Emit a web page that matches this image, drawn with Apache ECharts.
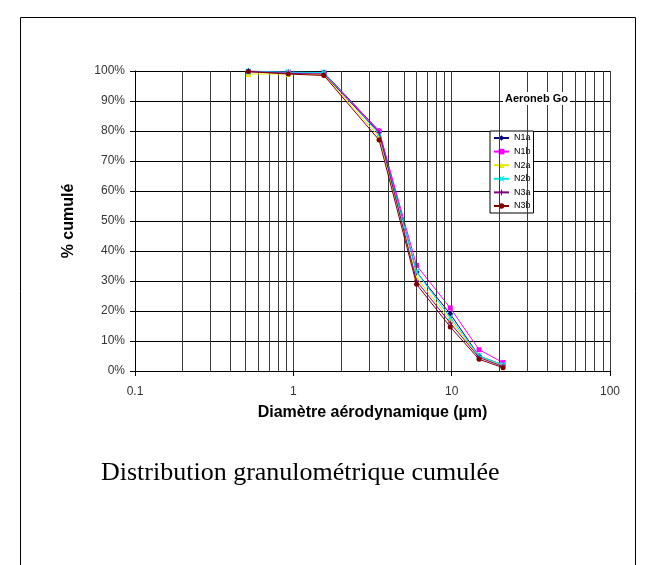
<!DOCTYPE html>
<html>
<head>
<meta charset="utf-8">
<script src="https://cdn.jsdelivr.net/npm/echarts@6/dist/echarts.min.js"></script>
<style>
html,body{margin:0;padding:0;background:#fff;}
#c{width:655px;height:565px;}
</style>
</head>
<body>
<div id="c"></div>
<script>
// Data
var diameters = [0.52, 0.93, 1.56, 3.48, 6.0, 9.8, 14.9, 21.1];
var seriesNames = ['N1a', 'N1b', 'N2a', 'N2b', 'N3a', 'N3b'];
var N1a = [100, 99.6, 99.5, 80, 33, 19, 5, 2];
var N1b = [99.8, 99.5, 99.3, 80, 35.2, 21, 7.1, 2.8];
var N2a = [99, 99, 98.8, 78, 31, 17, 4.7, 1.8];
var N2b = [99.8, 99.6, 99.5, 79, 33, 17.8, 5, 2];
var N3a = [99.8, 99.2, 99, 79.5, 30, 16, 4.5, 1.5];
var N3b = [99.8, 99, 98.5, 77, 28.9, 14.7, 3.9, 1.1];
var minorGridValues = [0.2,0.3,0.4,0.5,0.6,0.7,0.8,0.9, 2,3,4,5,6,7,8,9, 20,30,40,50,60,70,80,90];
var legendTitle = 'Aeroneb Go';
var xAxisTitle = 'Diamètre aérodynamique (µm)';
var yAxisTitle = '% cumulé';
var caption = 'Distribution granulométrique cumulée';

var allValues = [N1a, N1b, N2a, N2b, N3a, N3b];
var colors = ['#000080', '#FF00FF', '#E8E800', '#00E8E8', '#800080', '#800000'];
var symbols = ['diamond', 'rect', 'triangle',
  'path://M0 0L2 0L5 3L8 0L10 0L6.5 5L10 10L8 10L5 7L2 10L0 10L3.5 5Z',
  'path://M4 0L6 0L6 4L10 4L10 6L6 6L6 10L4 10L4 6L0 6L0 4L4 4Z',
  'circle'];
var sizes = [6, 5, 6, 6, 5, 5];

function pairs(vals) {
  return diameters.map(function (d, i) { return [d, vals[i]]; });
}

var series = [{
  name: 'grid',
  type: 'line',
  data: [],
  z: 1,
  silent: true,
  markLine: {
    silent: true,
    symbol: ['none', 'none'],
    label: { show: false },
    lineStyle: { color: '#3a3a3a', width: 1, type: 'solid' },
    data: minorGridValues.map(function (v) { return { xAxis: v }; }),
    animation: false
  }
}];
seriesNames.forEach(function (n, i) {
  series.push({
    name: n,
    type: 'line',
    data: pairs(allValues[i]),
    z: 3 + i,
    symbol: symbols[i],
    symbolSize: sizes[i],
    showAllSymbol: true,
    lineStyle: { color: colors[i], width: 1 },
    itemStyle: { color: colors[i] }
  });
});

var chart = echarts.init(document.getElementById('c'), null, { renderer: 'canvas' });
chart.setOption({
  animation: false,
  backgroundColor: '#fff',
  grid: { left: 135, right: 45, top: 71, bottom: 194, containLabel: false },
  xAxis: {
    type: 'log',
    logBase: 10,
    min: 0.1,
    max: 100,
    name: xAxisTitle,
    nameLocation: 'middle',
    nameGap: 34,
    nameTextStyle: { fontFamily: 'Liberation Sans', fontWeight: 'bold', fontSize: 16, color: '#000' },
    axisLine: { show: true, onZero: false, lineStyle: { color: '#000', width: 1 } },
    axisTick: { show: true, inside: false, length: 5, lineStyle: { color: '#000' } },
    axisLabel: { margin: 15, fontFamily: 'Liberation Sans', fontSize: 12, color: '#333',
      formatter: function (v) { return String(v); } },
    splitLine: { show: true, lineStyle: { color: '#3a3a3a', width: 1 } },
    minorTick: { show: false },
    minorSplitLine: { show: false }
  },
  yAxis: {
    type: 'value',
    min: 0,
    max: 100,
    interval: 10,
    name: yAxisTitle,
    nameLocation: 'middle',
    nameGap: 58,
    nameRotate: 90,
    nameTextStyle: { fontFamily: 'Liberation Sans', fontWeight: 'bold', fontSize: 16, color: '#000' },
    axisLine: { show: true, lineStyle: { color: '#000', width: 1 } },
    axisTick: { show: true, inside: false, length: 5, lineStyle: { color: '#000' } },
    axisLabel: { margin: 10, fontFamily: 'Liberation Sans', fontSize: 12, color: '#333',
      formatter: function (v) { return v + '%'; } },
    splitLine: { show: true, lineStyle: { color: '#000', width: 1 } }
  },
  legend: {
    data: seriesNames,
    orient: 'vertical',
    left: 490,
    top: 131,
    itemWidth: 15,
    itemHeight: 7,
    itemGap: 1.6,
    padding: [1, 3, 1, 3],
    backgroundColor: '#fff',
    borderColor: '#000',
    borderWidth: 1,
    borderRadius: 0,
    textStyle: { fontFamily: 'Liberation Sans', fontSize: 9, lineHeight: 12, color: '#000' }
  },
  graphic: [
    {
      type: 'rect',
      shape: { x: 20.5, y: 17.5, width: 615, height: 600 },
      style: { fill: 'none', stroke: '#000', lineWidth: 1 },
      z: 0
    },
    {
      type: 'text',
      left: 503,
      top: 92,
      z: 100,
      style: {
        text: legendTitle,
        font: 'bold 11px "Liberation Sans"',
        fill: '#000',
        backgroundColor: '#fff',
        padding: [1, 2]
      }
    },
    {
      type: 'text',
      left: 101,
      top: 460,
      z: 100,
      style: {
        text: caption,
        font: '26px "Liberation Serif"',
        fill: '#000'
      }
    }
  ],
  series: series
});
</script>
</body>
</html>
